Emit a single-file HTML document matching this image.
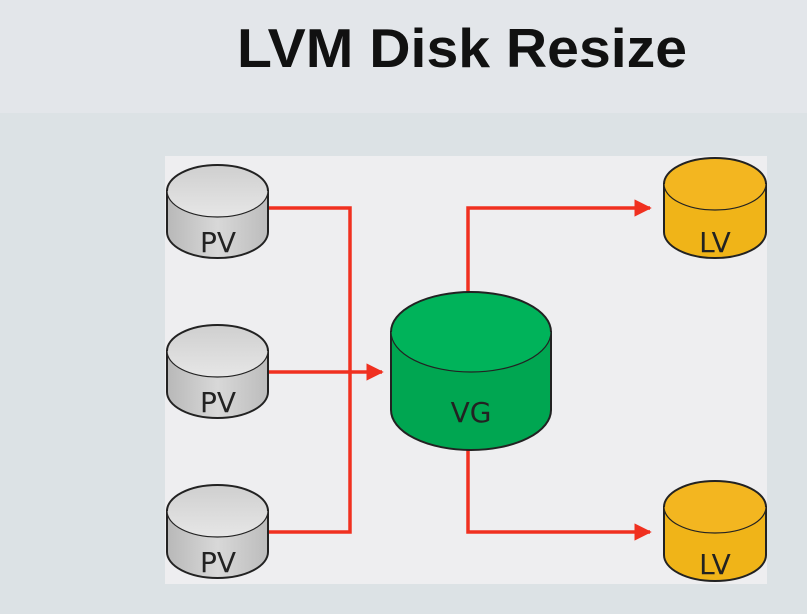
<!DOCTYPE html>
<html><head><style>
html,body{margin:0;padding:0;width:807px;height:614px;overflow:hidden;background:#dde3e6;}
</style></head><body>
<svg width="807" height="614" viewBox="0 0 807 614" xmlns="http://www.w3.org/2000/svg" style="position:absolute;left:0;top:0">
<defs>
<linearGradient id="gb" x1="0" x2="1"><stop offset="0" stop-color="#b8b8b8"/><stop offset=".5" stop-color="#d8d8d8"/><stop offset="1" stop-color="#bcbcbc"/></linearGradient>
<linearGradient id="gt" x1="0" y1="0" x2="0" y2="1"><stop offset="0" stop-color="#cfcfcf"/><stop offset="1" stop-color="#e6e6e6"/></linearGradient>
<marker id="ar" viewBox="0 0 10 10" refX="9" refY="5" markerWidth="5" markerHeight="5" orient="auto"><path d="M0,0 L10,5 L0,10 z" fill="#f03020"/></marker>
</defs>
<rect x="0" y="0" width="807" height="113" fill="#e3e6ea"/>
<rect x="0" y="113" width="807" height="501" fill="#dce2e5"/>
<rect x="165" y="156" width="602" height="428" fill="#eeeef0"/>
<text x="462" y="67" text-anchor="middle" font-family="Liberation Sans, sans-serif" font-weight="bold" font-size="55" fill="#111" textLength="450" lengthAdjust="spacingAndGlyphs">LVM Disk Resize</text>
<g stroke="#f03020" stroke-width="3.5" fill="none">
<polyline points="268,208 350,208 350,532 268,532"/>
<line x1="268" y1="372" x2="382" y2="372" marker-end="url(#ar)"/>
<polyline points="468,295 468,208 650,208" marker-end="url(#ar)"/>
<polyline points="468,450 468,532 650,532" marker-end="url(#ar)"/>
</g>
<g stroke="#222" stroke-width="2">
<g id="pv">
<path d="M167,191 L167,232 A50.5,26 0 0 0 268,232 L268,191 Z" fill="url(#gb)"/>
<ellipse cx="217.5" cy="191" rx="50.5" ry="26" fill="url(#gt)" stroke-width="1.2"/>
<path d="M167,191 A50.5,26 0 0 1 268,191" fill="none"/>
</g>
<use href="#pv" y="160"/>
<use href="#pv" y="320"/>
<g id="lv">
<path d="M664,184 L664,232 A51,26 0 0 0 766,232 L766,184 Z" fill="#f0b418"/>
<ellipse cx="715" cy="184" rx="51" ry="26" fill="#f3b620" stroke-width="1.2"/>
<path d="M664,184 A51,26 0 0 1 766,184" fill="none"/>
</g>
<use href="#lv" y="323"/>
<path d="M391,332 L391,410 A80,40 0 0 0 551,410 L551,332 Z" fill="#00a651"/>
<ellipse cx="471" cy="332" rx="80" ry="40" fill="#00b35a" stroke-width="1.2"/>
<path d="M391,332 A80,40 0 0 1 551,332" fill="none"/>
</g>
<g font-family="DejaVu Sans, Liberation Sans, sans-serif" font-size="28" fill="#222" text-anchor="middle">
<text x="218" y="252">PV</text>
<text x="218" y="412">PV</text>
<text x="218" y="572">PV</text>
<text x="715" y="252">LV</text>
<text x="715" y="574">LV</text>
<text x="471" y="422">VG</text>
</g>
</svg>
</body></html>
